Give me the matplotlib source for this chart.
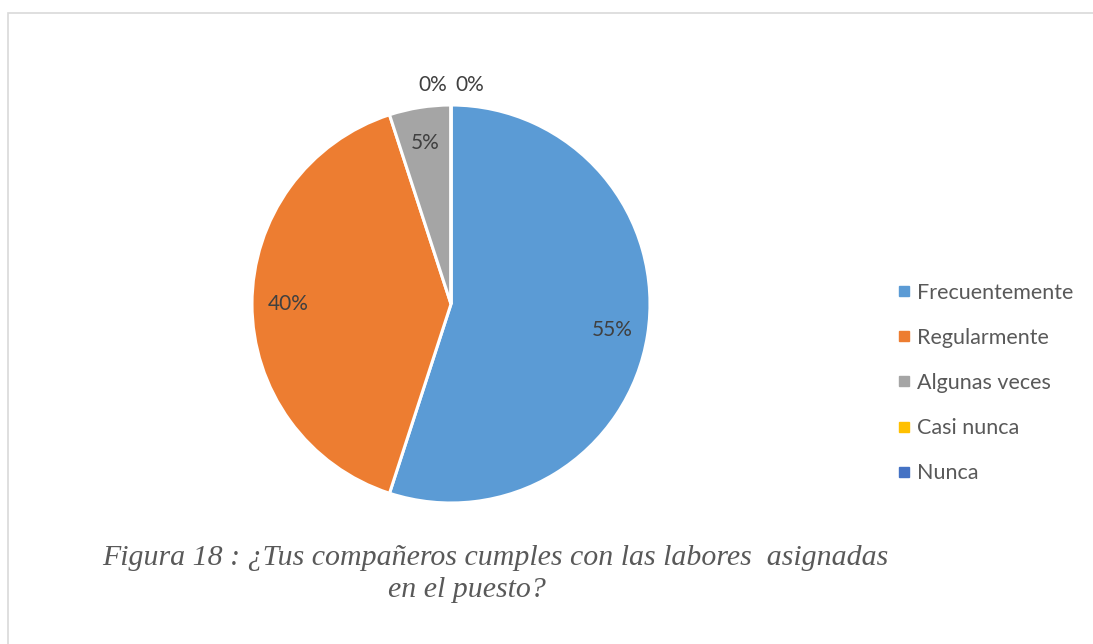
import numpy as np
import matplotlib.pyplot as plt
from matplotlib.patches import Rectangle
from matplotlib.lines import Line2D

categorias = ["Frecuentemente", "Regularmente", "Algunas veces", "Casi nunca", "Nunca"]
valores = [55, 40, 5, 0, 0]
colores = ["#5B9BD5", "#ED7D31", "#A5A5A5", "#FFC000", "#4472C4"]
titulo_1 = "Figura 18 : ¿Tus compañeros cumples con las labores  asignadas"
titulo_2 = "en el puesto?"

plt.rcParams['font.family'] = ['Lato', 'DejaVu Sans']
gris = "#595959"

fig = plt.figure(figsize=(10.93, 6.44), dpi=100)
W, H = 1093, 644
cx, cy, r = 451, 304, 199
ax = fig.add_axes([(cx - r) / W, (H - cy - r) / H, 2 * r / W, 2 * r / H])

total = sum(valores)
wedges, _ = ax.pie(valores, colors=colores, startangle=90, counterclock=False,
                   radius=1, wedgeprops=dict(edgecolor="white", linewidth=2.2))
ax.set_xlim(-1, 1)
ax.set_ylim(-1, 1)
ax.set_aspect('equal')
ax.axis('off')

# etiquetas de porcentaje
ceros = 0
for w, v in zip(wedges, valores):
    pct = f"{round(100 * v / total)}%"
    ang = np.deg2rad((w.theta1 + w.theta2) / 2)
    if v > 0:
        d = 0.82
        ax.text(d * np.cos(ang), d * np.sin(ang), pct, ha='center', va='center',
                fontsize=15, color="#404040")
    else:
        ha = 'right' if ceros == 0 else 'left'
        dx = -0.02 if ceros == 0 else 0.02
        ax.text(np.cos(ang) + dx, 1.1 * np.sin(ang), pct, ha=ha, va='center',
                fontsize=15, color="#404040", clip_on=False)
        ceros += 1

handles = [Line2D([], [], marker='s', linestyle='none', markersize=6.5,
                  markerfacecolor=c, markeredgecolor=c) for c in colores]
fig.legend(handles, categorias, loc='center left',
           bbox_to_anchor=(879 / W, 1 - 383 / H), frameon=False,
           fontsize=15.5, labelcolor=gris, handlelength=0.5, handletextpad=0.35,
           labelspacing=1.17)

fig.text(495 / W, 1 - 565 / H, titulo_1, ha='center', va='baseline',
         fontsize=21.5, style='italic', family='Liberation Serif', color=gris)
fig.text(467 / W, 1 - 597 / H, titulo_2, ha='center', va='baseline',
         fontsize=21.5, style='italic', family='Liberation Serif', color=gris)

fig.patches.append(Rectangle((7.5 / W, -0.1), 1.2, 1 - 12.5 / H + 0.1,
                             transform=fig.transFigure, fill=False,
                             edgecolor="#D9D9D9", linewidth=1.2))

fig.savefig("out.png", dpi=100, facecolor="white")
